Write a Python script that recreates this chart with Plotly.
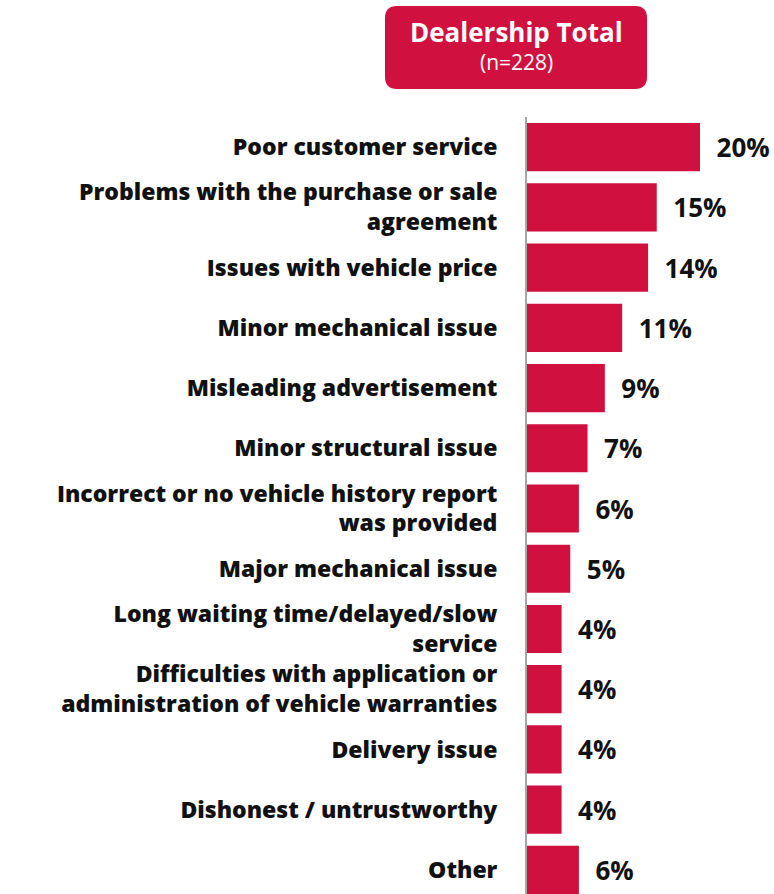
import plotly.graph_objects as go

categories = [
    "Poor customer service",
    "Problems with the purchase or sale<br>agreement",
    "Issues with vehicle price",
    "Minor mechanical issue",
    "Misleading advertisement",
    "Minor structural issue",
    "Incorrect or no vehicle history report<br>was provided",
    "Major mechanical issue",
    "Long waiting time/delayed/slow<br>service",
    "Difficulties with application or<br>administration of vehicle warranties",
    "Delivery issue",
    "Dishonest / untrustworthy",
    "Other",
]
values = [20, 15, 14, 11, 9, 7, 6, 5, 4, 4, 4, 4, 6]
labels = [f"\u00a0\u00a0{v}%" for v in values]

header_title = "Dealership Total"
header_sub = "(n=228)"

RED = "#D01140"
FONT = "Open Sans"
W, H = 774, 894
L, R, T, B = 527, 0, 117, 0

fig = go.Figure(go.Bar(
    y=categories, x=values, orientation="h",
    marker=dict(color=RED, line=dict(width=0)),
    text=labels, textposition="outside", cliponaxis=False,
    textfont=dict(family=FONT, size=26, color="#111111", weight="bold"),
))

pw = W - L - R
ph = H - T - B

def px2paper_x(px):
    return (px - L) / pw

def px2paper_y(py):
    return 1 - (py - T) / ph

x0, x1, y0, y1 = 385, 647, 6, 89
r = 12
rx = r / pw
ry = r / ph
X0, X1 = px2paper_x(x0), px2paper_x(x1)
Yt, Yb = px2paper_y(y0), px2paper_y(y1)
path = (f"M {X0+rx},{Yt} L {X1-rx},{Yt} Q {X1},{Yt} {X1},{Yt-ry} "
        f"L {X1},{Yb+ry} Q {X1},{Yb} {X1-rx},{Yb} "
        f"L {X0+rx},{Yb} Q {X0},{Yb} {X0},{Yb+ry} "
        f"L {X0},{Yt-ry} Q {X0},{Yt} {X0+rx},{Yt} Z")
fig.add_shape(type="path", path=path, xref="paper", yref="paper",
              fillcolor=RED, line=dict(width=0), layer="above")

cx = px2paper_x((x0 + x1) / 2)
fig.add_annotation(x=cx, y=px2paper_y(32), xref="paper", yref="paper",
                   text=f"<b>{header_title}</b>", showarrow=False,
                   font=dict(family=FONT, size=26, color="white"),
                   xanchor="center", yanchor="middle")
fig.add_annotation(x=cx, y=px2paper_y(62), xref="paper", yref="paper",
                   text=header_sub, showarrow=False,
                   font=dict(family=FONT, size=21, color="white"),
                   xanchor="center", yanchor="middle")

fig.update_layout(
    width=W, height=H,
    margin=dict(l=L, r=R, t=T, b=B, pad=0),
    plot_bgcolor="white", paper_bgcolor="white",
    bargap=0.2, showlegend=False,
    xaxis=dict(range=[0, pw / 8.65], visible=False, fixedrange=True),
    yaxis=dict(
        range=[12.4, -0.5], showline=True, linecolor="#A6A6A6", linewidth=2,
        showgrid=False, ticks="", ticklabelstandoff=23, automargin=False,
        tickfont=dict(family=FONT, size=23, color="#111111", weight=800),
    ),
)

fig.write_html("out.html", config={"displayModeBar": False},
               post_script="document.body.style.margin='0';")
